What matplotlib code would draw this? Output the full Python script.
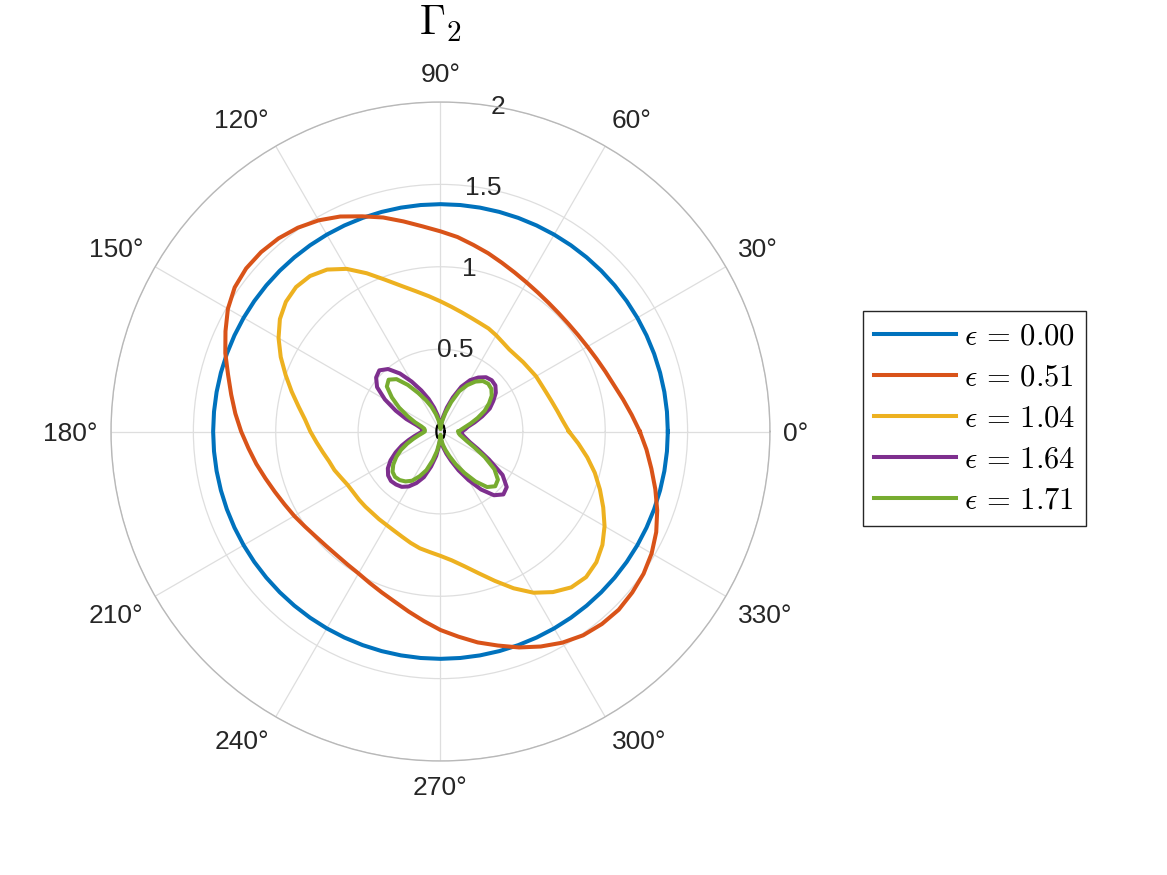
import numpy as np
import matplotlib
matplotlib.use('Agg')
import matplotlib.pyplot as plt

plt.rcParams['font.family'] = ['Liberation Sans', 'DejaVu Sans']
plt.rcParams['mathtext.fontset'] = 'cm'

# angle of each sample (deg), read every 5 degrees
angle_deg = list(range(0, 360, 5))

# Gamma_2, one list per epsilon
gamma_eps000 = [1.38, 1.38, 1.38, 1.38, 1.38, 1.38, 1.38, 1.38, 1.38, 1.38, 1.38, 1.38,
                1.38, 1.38, 1.38, 1.38, 1.38, 1.38, 1.38, 1.38, 1.38, 1.38, 1.38, 1.38,
                1.38, 1.38, 1.38, 1.38, 1.38, 1.38, 1.38, 1.38, 1.38, 1.38, 1.38, 1.38,
                1.38, 1.38, 1.38, 1.38, 1.38, 1.38, 1.38, 1.38, 1.38, 1.38, 1.38, 1.38,
                1.38, 1.38, 1.38, 1.38, 1.38, 1.38, 1.38, 1.38, 1.38, 1.38, 1.38, 1.38,
                1.38, 1.38, 1.38, 1.38, 1.38, 1.38, 1.38, 1.38, 1.38, 1.38, 1.38, 1.38]
gamma_eps051 = [1.21, 1.165, 1.125, 1.09, 1.065, 1.045, 1.03, 1.02, 1.015, 1.015, 1.02, 1.03,
                1.045, 1.065, 1.09, 1.12, 1.15, 1.185, 1.215, 1.25, 1.295, 1.345, 1.39, 1.44,
                1.48, 1.51, 1.53, 1.54, 1.54, 1.525, 1.49, 1.44, 1.39, 1.335, 1.29, 1.25,
                1.21, 1.17, 1.135, 1.10, 1.07, 1.045, 1.025, 1.005, 0.99, 0.982, 0.98, 0.985,
                0.995, 1.015, 1.04, 1.07, 1.11, 1.155, 1.205, 1.25, 1.30, 1.345, 1.395, 1.44,
                1.48, 1.51, 1.525, 1.53, 1.52, 1.505, 1.48, 1.445, 1.40, 1.35, 1.30, 1.255]
gamma_eps104 = [0.78, 0.745, 0.72, 0.70, 0.685, 0.675, 0.67, 0.66, 0.655, 0.65, 0.65, 0.66,
                0.675, 0.69, 0.70, 0.715, 0.735, 0.76, 0.79, 0.825, 0.865, 0.915, 0.98, 1.06,
                1.14, 1.20, 1.232, 1.24, 1.225, 1.19, 1.135, 1.07, 1.0, 0.935, 0.875, 0.825,
                0.79, 0.755, 0.725, 0.70, 0.685, 0.665, 0.65, 0.645, 0.645, 0.645, 0.645, 0.65,
                0.655, 0.665, 0.68, 0.70, 0.72, 0.735, 0.755, 0.785, 0.83, 0.89, 0.965, 1.05,
                1.13, 1.19, 1.235, 1.25, 1.235, 1.20, 1.15, 1.09, 1.03, 0.97, 0.905, 0.84]
gamma_eps164 = [0.13, 0.15, 0.17, 0.215, 0.27, 0.33, 0.37, 0.41, 0.435, 0.44, 0.43, 0.40,
                0.36, 0.30, 0.22, 0.15, 0.09, 0.045, 0.025, 0.05, 0.10, 0.15, 0.21, 0.275,
                0.35, 0.43, 0.495, 0.525, 0.51, 0.47, 0.39, 0.30, 0.22, 0.15, 0.12, 0.11,
                0.11, 0.13, 0.16, 0.20, 0.25, 0.30, 0.35, 0.39, 0.415, 0.425, 0.42, 0.41,
                0.385, 0.345, 0.295, 0.22, 0.15, 0.08, 0.03, 0.06, 0.10, 0.14, 0.19, 0.26,
                0.34, 0.43, 0.505, 0.54, 0.525, 0.46, 0.34, 0.25, 0.19, 0.16, 0.14, 0.13]
gamma_eps171 = [0.11, 0.125, 0.15, 0.19, 0.24, 0.295, 0.34, 0.38, 0.403, 0.41, 0.40, 0.37,
                0.325, 0.27, 0.19, 0.12, 0.07, 0.035, 0.015, 0.035, 0.07, 0.11, 0.16, 0.21,
                0.27, 0.345, 0.415, 0.445, 0.425, 0.36, 0.29, 0.22, 0.165, 0.12, 0.10, 0.095,
                0.095, 0.11, 0.135, 0.17, 0.215, 0.265, 0.31, 0.35, 0.38, 0.39, 0.385, 0.37,
                0.345, 0.30, 0.25, 0.18, 0.12, 0.06, 0.02, 0.045, 0.08, 0.115, 0.16, 0.22,
                0.29, 0.37, 0.44, 0.47, 0.455, 0.40, 0.31, 0.225, 0.17, 0.14, 0.12, 0.11]

# tiny black loop at the origin
origin_angle_deg = list(range(0, 360, 30))
origin_r = [0.025, 0.028, 0.04, 0.05, 0.04, 0.028, 0.025, 0.028, 0.04, 0.05, 0.04, 0.028]

eps_labels = ['0.00', '0.51', '1.04', '1.64', '1.71']
series = [gamma_eps000, gamma_eps051, gamma_eps104, gamma_eps164, gamma_eps171]
colors = ['#0072BD', '#D95319', '#EDB120', '#7E2F8E', '#77AC30']

r_ticks = [0.5, 1, 1.5, 2]
r_tick_labels = ['0.5', '1', '1.5', '2']
theta_ticks = list(range(0, 360, 30))


def closed(a, first):
    return np.append(np.asarray(a, dtype=float), first)


fig = plt.figure(figsize=(11.67, 8.75), dpi=100)
ax = fig.add_axes([0.0951, 0.1303, 0.5647, 0.7531], projection='polar')

th = np.deg2rad(closed(angle_deg, 360))
th0 = np.deg2rad(closed(origin_angle_deg, 360))
ax.plot(th0, closed(origin_r, origin_r[0]), color='black', lw=1.6, zorder=2)

handles = []
for vals, lab, col in zip(series, eps_labels, colors):
    h, = ax.plot(th, closed(vals, vals[0]), color=col, lw=2.9,
                 label=r'$\epsilon\,=\,' + lab + '$', zorder=3)
    handles.append(h)

ax.set_ylim(0, 2)
ax.set_yticks(r_ticks)
ax.set_yticklabels(r_tick_labels)
ax.set_rlabel_position(80)
ax.set_xticks(np.deg2rad(theta_ticks))
ax.set_xticklabels([''] * len(theta_ticks))
ax.tick_params(axis='y', labelsize=19, colors='#262626')
for t in ax.get_yticklabels():
    t.set_ha('center')
    t.set_va('center')
ax.grid(color='#dedede', lw=0.9)
ax.spines['polar'].set_color('#b8b8b8')
ax.spines['polar'].set_linewidth(1.0)

# theta labels just outside the rim, aligned on the side facing the circle
for a in theta_ticks:
    c, s = np.cos(np.deg2rad(a)), np.sin(np.deg2rad(a))
    ha = 'left' if c > 0.01 else ('right' if c < -0.01 else 'center')
    if s > 0.01:
        va, dy = 'baseline', 20.5 * s
    elif s < -0.01:
        va, dy = 'top', 15.5 * s
    else:
        va, dy = 'center_baseline', 0
    ax.annotate(f'{a}°', xy=(np.deg2rad(a), 2), xytext=(13.5 * c, dy),
                textcoords='offset pixels', ha=ha, va=va,
                fontsize=19, color='#262626', annotation_clip=False)

fig.text(440.5 / 1167, 1 - 24 / 875, r'$\Gamma_2$', ha='center', va='center', fontsize=30)

leg = fig.legend(handles=handles, loc='upper left', bbox_to_anchor=(863 / 1167, 1 - 311 / 875),
                 fontsize=22, frameon=True, fancybox=False, edgecolor='#262626',
                 handlelength=2.7, handletextpad=0.25, labelspacing=0.36,
                 borderpad=0.35, borderaxespad=0, framealpha=1)
leg.get_frame().set_linewidth(1.0)

fig.savefig('out.png', dpi=100)
